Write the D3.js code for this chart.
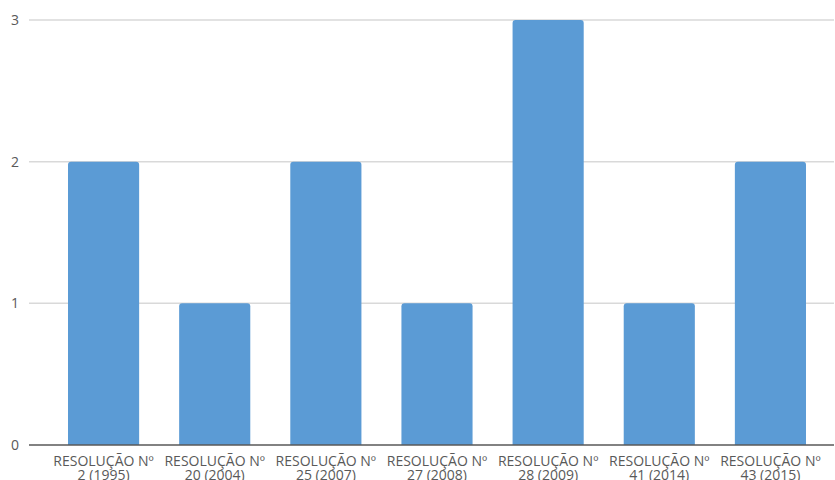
<!DOCTYPE html>
<html>
<head>
<meta charset="utf-8">
<script src="https://cdn.jsdelivr.net/npm/d3@7"></script>
<style>
  html, body { margin: 0; padding: 0; background: #fff; }
  svg { display: block; }
  text { font-family: "Open Sans", "Noto Sans", sans-serif; fill: #595959; }
</style>
</head>
<body>
<svg id="chart" width="835" height="480"></svg>
<script>
// Resolution categories (two label lines each) and counts
const labelLine1 = ["RESOLUÇÃO Nº", "RESOLUÇÃO Nº", "RESOLUÇÃO Nº", "RESOLUÇÃO Nº", "RESOLUÇÃO Nº", "RESOLUÇÃO Nº", "RESOLUÇÃO Nº"];
const labelLine2 = ["2 (1995)", "20 (2004)", "25 (2007)", "27 (2008)", "28 (2009)", "41 (2014)", "43 (2015)"];
const categories = labelLine2.map((d, i) => labelLine1[i] + " " + d);
const values = [2, 1, 2, 1, 3, 1, 2];
const yTicks = [0, 1, 2, 3];

const svg = d3.select("#chart");

const gridLeft = 29, gridRight = 834;
const x = d3.scaleBand()
  .domain(categories)
  .range([48, 826])
  .paddingInner(0.36)
  .paddingOuter(0.18);

const y = d3.scaleLinear()
  .domain([0, 3])
  .range([445, 20]);

// Horizontal gridlines
svg.append("g")
  .selectAll("line")
  .data(yTicks.filter(t => t > 0))
  .join("line")
  .attr("x1", gridLeft).attr("x2", gridRight)
  .attr("y1", d => y(d)).attr("y2", d => y(d))
  .attr("stroke", "#d9d9d9")
  .attr("stroke-width", 1.5);

// Y-axis tick labels
const yAxis = d3.axisLeft(y).tickValues(yTicks).tickFormat(d3.format("d")).tickSize(0).tickPadding(0);
const yg = svg.append("g").attr("transform", `translate(19,0)`).call(yAxis);
yg.attr("font-size", null).attr("font-family", null);
yg.select(".domain").remove();
yg.selectAll("text")
  .attr("font-size", 14)
  .attr("fill", "#595959");

// Bars with slightly rounded tops
svg.append("g")
  .selectAll("path")
  .data(values.map((v, i) => ({ c: categories[i], v })))
  .join("path")
  .attr("fill", "#5b9bd5")
  .attr("d", d => {
    const x0 = x(d.c), w = x.bandwidth();
    const y0 = y(d.v), y1 = y(0), r = 3;
    return `M${x0},${y1}V${y0 + r}Q${x0},${y0} ${x0 + r},${y0}H${x0 + w - r}Q${x0 + w},${y0} ${x0 + w},${y0 + r}V${y1}Z`;
  });

// Baseline
svg.append("line")
  .attr("x1", gridLeft).attr("x2", gridRight)
  .attr("y1", y(0)).attr("y2", y(0))
  .attr("stroke", "#595959")
  .attr("stroke-width", 1.5);

// Category labels (two lines)
const xl = svg.append("g")
  .selectAll("text")
  .data(categories)
  .join("text")
  .attr("x", d => x(d) + x.bandwidth() / 2)
  .attr("y", 466)
  .attr("text-anchor", "middle")
  .attr("font-size", 14);
xl.append("tspan").text((d, i) => labelLine1[i]);
xl.append("tspan")
  .attr("x", d => x(d) + x.bandwidth() / 2)
  .attr("dy", 14)
  .text((d, i) => labelLine2[i]);
</script>
</body>
</html>
